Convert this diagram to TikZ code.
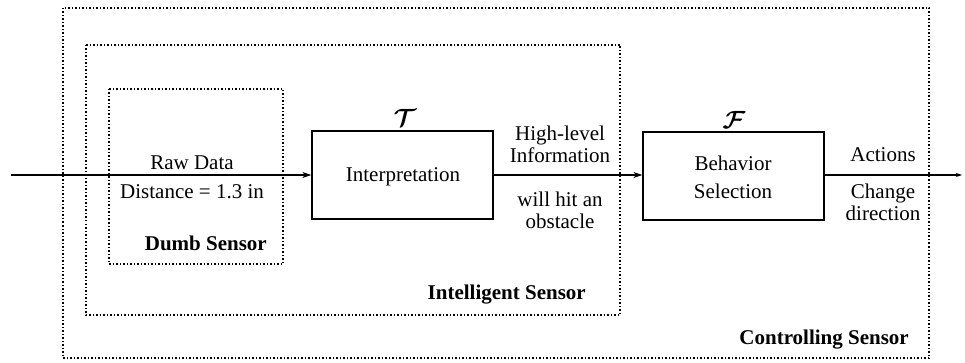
\documentclass[tikz,border=0pt]{standalone}
\usepackage{bm}
\usepackage{fontspec}
\setmainfont{Liberation Serif}[BoldFont={Liberation Serif Bold}, ItalicFont={Liberation Serif Italic}]
\usetikzlibrary{arrows.meta}
\begin{document}
\begin{tikzpicture}[x=1pt,y=-1pt,
  txt/.style={inner sep=0pt, font=\fontsize{21}{21}\selectfont, align=center},
  btxt/.style={inner sep=0pt, font=\fontsize{21}{21}\selectfont\bfseries},
  dotbox/.style={draw, line width=1.5pt, dash pattern=on 1.5pt off 2pt},
  block/.style={draw, line width=1.4pt, inner sep=0pt},
  flow/.style={line width=1.2pt, -{Stealth[length=9pt,width=6pt]}}]
\useasboundingbox (0,0) rectangle (965,363);
% sensor boxes
\draw[dotbox] (63,8) rectangle (929,358);
\draw[dotbox] (86,45) rectangle (620,315);
\draw[dotbox] (109,89) rectangle (283,264);
% blocks
\node[block, minimum width=181pt, minimum height=88pt] (interp) at (402.5,175) {};
\node[block, minimum width=181pt, minimum height=88pt] (behav) at (733.5,176) {};
\node[txt] at (403,177) {Interpretation};
\node[txt] at (733,163) {Behavior};
\node[txt] at (733,191) {Selection};
\node[inner sep=0pt, font=\fontsize{25}{25}\selectfont] at (405,118) {$\bm{\mathcal{T}}$};
\node[inner sep=0pt, font=\fontsize{25}{25}\selectfont] at (734,120) {$\bm{\mathcal{F}}$};
% connectors
\coordinate (in) at (11,175);
\coordinate (out) at (962,175);
\draw[flow] (in) -- (interp.west);
\draw[flow] (interp.east) -- (behav.west |- interp.east);
\draw[line width=1.2pt, -{Stealth[length=6pt,width=4pt]}] (behav.east |- out) -- (out);
% labels
\node[txt] at (192,163) {Raw Data};
\node[txt] at (192,192) {Distance = 1.3 in};
\node[txt] at (560,135) {High-level};
\node[txt] at (560,155) {Information};
\node[txt] at (560,199) {will hit an};
\node[txt] at (560,221) {obstacle};
\node[txt] at (883,155) {Actions};
\node[txt] at (883,193) {Change};
\node[txt] at (883,213) {direction};
\node[btxt, anchor=east] at (267,243) {Dumb Sensor};
\node[btxt, anchor=east] at (586,295) {Intelligent Sensor};
\node[btxt, anchor=east] at (909,340) {Controlling Sensor};
\end{tikzpicture}
\end{document}
